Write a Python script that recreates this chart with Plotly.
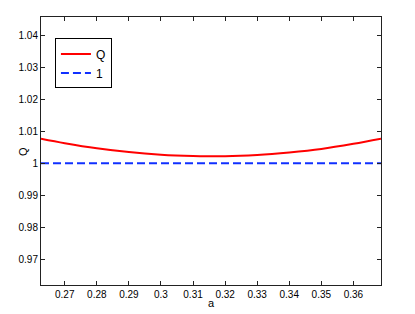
import plotly.graph_objects as go

a_vals = [0.2626, 0.27, 0.28, 0.29, 0.30, 0.31, 0.32, 0.33, 0.34, 0.35, 0.36, 0.3686]
q_vals = [1.0077, 1.0063, 1.0047, 1.0035, 1.0027, 1.0023, 1.0022, 1.0026, 1.0034, 1.0045, 1.0061, 1.0077]
one_vals = [1.0] * len(a_vals)

x_ticks = [0.27, 0.28, 0.29, 0.30, 0.31, 0.32, 0.33, 0.34, 0.35, 0.36]
x_ticktext = ["0.27", "0.28", "0.29", "0.3", "0.31", "0.32", "0.33", "0.34", "0.35", "0.36"]
y_ticks = [0.97, 0.98, 0.99, 1.00, 1.01, 1.02, 1.03, 1.04]
y_ticktext = ["0.97", "0.98", "0.99", "1", "1.01", "1.02", "1.03", "1.04"]

fig = go.Figure()
fig.add_trace(go.Scatter(x=a_vals, y=q_vals, mode="lines", name="Q",
                         line=dict(color="#ff0000", width=2, shape="spline")))
fig.add_trace(go.Scatter(x=a_vals, y=one_vals, mode="lines", name="1",
                         line=dict(color="#1030ff", width=2, dash="8px,4px")))

font = dict(family="Liberation Sans, Arial, sans-serif", size=10, color="#000")
axis_common = dict(showgrid=False, zeroline=False, showline=True, linecolor="#222",
                   linewidth=1, mirror="ticks", ticks="inside", ticklen=4,
                   tickcolor="#222", tickfont=font, automargin=False)

# page body has an 8px default margin, so the figure is sized to fit the window
fig.update_layout(
    width=407, height=306, autosize=False,
    margin=dict(l=33, r=34, t=9, b=29),
    paper_bgcolor="white", plot_bgcolor="white",
    font=font,
    xaxis=dict(range=[0.2626, 0.3686], tickvals=x_ticks, ticktext=x_ticktext,
               title=dict(text="a", font=dict(size=11), standoff=0), **axis_common),
    yaxis=dict(range=[0.962, 1.0457], tickvals=y_ticks, ticktext=y_ticktext,
               **axis_common),
    legend=dict(x=0.041, y=0.92, xanchor="left", yanchor="top",
                bordercolor="#000", borderwidth=1, bgcolor="white",
                font=dict(family="Liberation Sans, Arial, sans-serif", size=12),
                tracegroupgap=0, itemwidth=30),
    showlegend=True,
    annotations=[dict(text="Q", xref="paper", yref="paper", x=-0.053, y=0.5,
                      xanchor="center", yanchor="middle", textangle=-90,
                      showarrow=False, font=dict(family="Liberation Sans, Arial, sans-serif",
                                                 size=11, color="#000"))],
)

fig.write_html("out.html")
